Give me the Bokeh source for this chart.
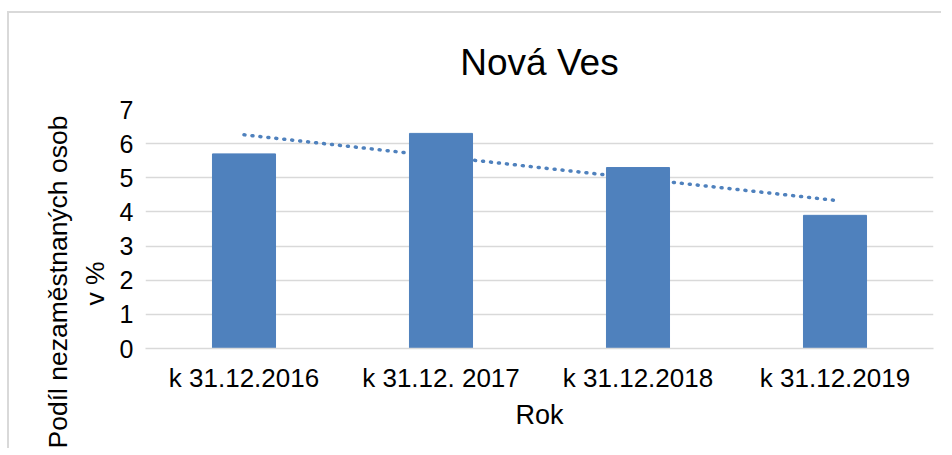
import numpy as np
from bokeh.plotting import figure
from bokeh.models import ColumnDataSource, FactorRange, Range1d, SingleIntervalTicker, Title
from bokeh.embed import file_html
from bokeh.resources import INLINE

categories = ["k 31.12.2016", "k 31.12. 2017", "k 31.12.2018", "k 31.12.2019"]
values = [5.7, 6.3, 5.3, 3.9]
title_text = "Nová Ves"
x_label = "Rok"
y_label_lines = ["Podíl nezaměstnaných osob", "v %"]

# linear trendline (as Excel computes it) from the data
xi = np.arange(1, len(values) + 1)
slope, intercept = np.polyfit(xi, values, 1)
trend = list(slope * xi + intercept)

BLUE = "#4f81bd"
GRID = "#d9d9d9"
FONT = "Liberation Sans"

p = figure(width=934, height=437, output_backend="svg", toolbar_location=None,
           x_range=FactorRange(*categories, range_padding=0), y_range=Range1d(0, 7),
           min_border_left=136, min_border_right=10, min_border_top=95, min_border_bottom=102)
p.styles = {"border-left": "2px solid #d9d9d9", "border-top": "2px solid #d9d9d9",
            "margin-left": "7px", "margin-top": "11px"}

p.title.text = title_text
p.title.align = "center"
p.title.text_font = FONT
p.title.text_font_size = "37px"
p.title.text_font_style = "normal"
p.title.text_color = "#000000"
p.title.standoff = 53

src = ColumnDataSource(dict(cat=categories, val=values, trend=trend))
p.line("cat", "trend", source=src, color=BLUE, line_width=3.5, line_dash="1 7", line_cap="round")
p.vbar(x="cat", top="val", width=0.32, source=src, fill_color=BLUE, line_color=BLUE)

p.outline_line_color = None
p.background_fill_color = "white"
p.xgrid.grid_line_color = None
p.ygrid.grid_line_color = GRID
p.ygrid.grid_line_width = 1.5

p.yaxis.ticker = SingleIntervalTicker(interval=1)
p.yaxis.axis_line_color = None
p.yaxis.major_tick_line_color = None
p.yaxis.minor_tick_line_color = None
p.yaxis.major_label_text_font = FONT
p.yaxis.major_label_text_font_size = "25px"
p.yaxis.major_label_text_color = "#000000"
p.yaxis.major_label_standoff = 6

# two-line y-axis title as two stacked side titles (inner line first),
# anchored at the frame bottom and shifted so both lines share one centre
inner = Title(text=y_label_lines[1], align="left", vertical_align="middle", offset=43, standoff=12,
              text_font=FONT, text_font_size="26.5px", text_font_style="normal",
              text_color="#000000")
outer = Title(text=y_label_lines[0], align="left", offset=-100, standoff=0,
              text_font=FONT, text_font_size="26.5px", text_font_style="normal",
              text_color="#000000")
p.add_layout(inner, "left")
p.add_layout(outer, "left")

p.xaxis.axis_line_color = GRID
p.xaxis.axis_line_width = 1.5
p.xaxis.major_tick_line_color = None
p.xaxis.minor_tick_line_color = None
p.xaxis.major_label_text_font = FONT
p.xaxis.major_label_text_font_size = "26px"
p.xaxis.major_label_text_color = "#000000"
p.xaxis.major_label_standoff = 8
p.xaxis.axis_label = x_label
p.xaxis.axis_label_text_font = FONT
p.xaxis.axis_label_text_font_size = "27px"
p.xaxis.axis_label_text_font_style = "normal"
p.xaxis.axis_label_text_color = "#000000"
p.xaxis.axis_label_standoff = 4

open("out.html", "w").write(file_html(p, INLINE))
